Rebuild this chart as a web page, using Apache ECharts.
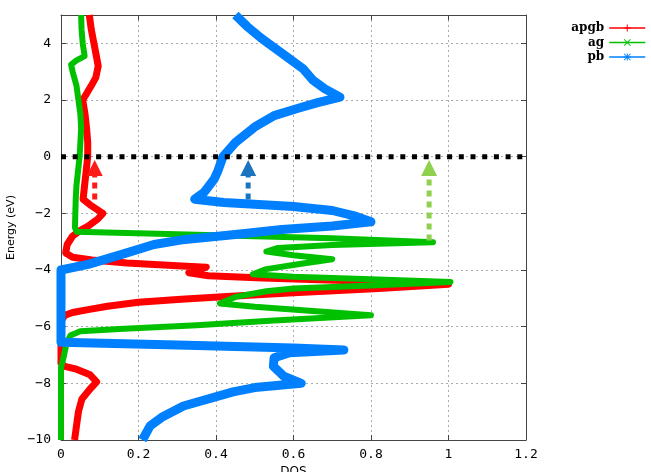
<!DOCTYPE html>
<html>
<head>
<meta charset="utf-8">
<script src="https://cdn.jsdelivr.net/npm/echarts@6/dist/echarts.min.js"></script>
<style>
  html, body { margin: 0; padding: 0; background: #fff; }
  #main { width: 651px; height: 472px; }
</style>
</head>
<body>
<div id="main"></div>
<script>
// [DOS, Energy] pairs, sorted from top (E=5) to bottom (E=-10)
var apgb = [
  [0.073, 5.0], [0.078, 4.5], [0.085, 4.0], [0.092, 3.5], [0.096, 3.2], [0.090, 2.8],
  [0.078, 2.5], [0.065, 2.2], [0.056, 2.0], [0.062, 1.5], [0.066, 1.0], [0.069, 0.5],
  [0.069, 0.0], [0.065, -0.5], [0.061, -1.0], [0.057, -1.5], [0.075, -1.7], [0.108, -2.0],
  [0.095, -2.2], [0.070, -2.45], [0.050, -2.6], [0.030, -2.8], [0.016, -3.1], [0.012, -3.4],
  [0.030, -3.55], [0.080, -3.65], [0.170, -3.75], [0.300, -3.85], [0.375, -3.9], [0.350, -4.0],
  [0.330, -4.1], [0.380, -4.2], [0.520, -4.28], [0.750, -4.38], [1.0, -4.5], [0.820, -4.65],
  [0.600, -4.8], [0.450, -4.92], [0.310, -5.03], [0.200, -5.14], [0.120, -5.28], [0.070, -5.4],
  [0.030, -5.5], [0.010, -5.6], [0.0, -5.8], [0.0, -7.3], [0.010, -7.4], [0.040, -7.5],
  [0.075, -7.7], [0.092, -7.95], [0.075, -8.2], [0.054, -8.55], [0.045, -9.0], [0.040, -9.5],
  [0.035, -10.0]
];
var ag = [
  [0.052, 5.0], [0.053, 4.5], [0.056, 4.0], [0.061, 3.55], [0.040, 3.4], [0.026, 3.25],
  [0.030, 3.0], [0.040, 2.5], [0.045, 2.0], [0.050, 1.5], [0.052, 1.0], [0.050, 0.5],
  [0.048, 0.0], [0.044, -0.5], [0.040, -1.0], [0.038, -1.5], [0.037, -2.0], [0.036, -2.5],
  [0.040, -2.65], [0.300, -2.74], [0.700, -2.88], [0.960, -3.02], [0.700, -3.12], [0.560, -3.22],
  [0.530, -3.35], [0.600, -3.48], [0.700, -3.62], [0.620, -3.78], [0.530, -3.97], [0.495, -4.15],
  [0.600, -4.24], [0.800, -4.33], [1.005, -4.42], [0.800, -4.55], [0.600, -4.65], [0.530, -4.75],
  [0.450, -4.95], [0.410, -5.18], [0.500, -5.3], [0.650, -5.45], [0.800, -5.6], [0.550, -5.78],
  [0.350, -5.95], [0.150, -6.08], [0.050, -6.16], [0.025, -6.3], [0.014, -6.6], [0.008, -7.0],
  [0.0, -7.45], [0.0, -10.0]
];
var pb = [
  [0.450, 5.0], [0.480, 4.6], [0.515, 4.2], [0.535, 4.0], [0.575, 3.6], [0.625, 3.1],
  [0.650, 2.7], [0.680, 2.4], [0.720, 2.1], [0.660, 1.9], [0.610, 1.7], [0.550, 1.45],
  [0.500, 1.05], [0.450, 0.5], [0.418, 0.0], [0.405, -0.5], [0.395, -0.8], [0.370, -1.25],
  [0.345, -1.5], [0.420, -1.62], [0.600, -1.76], [0.700, -1.9], [0.760, -2.1], [0.800, -2.3],
  [0.700, -2.45], [0.570, -2.57], [0.450, -2.75], [0.320, -2.92], [0.240, -3.1], [0.157, -3.45],
  [0.070, -3.8], [0.0, -4.0], [0.0, -6.55], [0.300, -6.65], [0.600, -6.75], [0.730, -6.82],
  [0.590, -6.92], [0.550, -7.1], [0.548, -7.4], [0.575, -7.75], [0.620, -8.0], [0.500, -8.15],
  [0.444, -8.3], [0.316, -8.8], [0.260, -9.2], [0.230, -9.5], [0.210, -10.0]
];

// dashed arrows: x position, start energy, energy of the head centre
var arrowX = [0.087, 0.483, 0.950];
var arrowFrom = [-1.51, -1.51, -2.96];
var arrowTo = -0.40;
var arrowColors = ['#ff1a1a', '#1b74bf', '#8fd14f'];

var seriesNames = ['apgb', 'ag', 'pb'];
var seriesColors = ['#ff0000', '#00c000', '#0080ff'];

var chart = echarts.init(document.getElementById('main'), null, { renderer: 'canvas' });

var monoFont = 'DejaVu Sans Mono';
var minus = function (v) { return String(v).replace('-', '\u2212'); };

var series = [
  {
    name: 'apgb', type: 'line', data: apgb, showSymbol: false,
    symbol: 'path://M4.3,0H5.7V4.3H10V5.7H5.7V10H4.3V5.7H0V4.3H4.3Z',
    lineStyle: { width: 7, color: seriesColors[0], join: 'round' },
    itemStyle: { color: seriesColors[0] }
  },
  {
    name: 'ag', type: 'line', data: ag, showSymbol: false,
    symbol: 'path://M1,0L5,4L9,0L10,1L6,5L10,9L9,10L5,6L1,10L0,9L4,5L0,1Z',
    lineStyle: { width: 6, color: seriesColors[1], join: 'round' },
    itemStyle: { color: seriesColors[1] }
  },
  {
    name: 'pb', type: 'line', data: pb, showSymbol: false,
    symbol: 'path://M4.3,0H5.7V10H4.3Z M0,4.3H10V5.7H0Z M1,0L10,9L9,10L0,1Z M9,0L10,1L1,10L0,9Z',
    lineStyle: { width: 9, color: seriesColors[2], join: 'round' },
    itemStyle: { color: seriesColors[2] }
  },
  // Fermi level
  {
    type: 'line', data: [[0, 0], [1.2, 0]], symbol: 'none', silent: true,
    lineStyle: { width: 5, color: '#000', type: [5, 6.7], cap: 'butt' }
  }
];

arrowX.forEach(function (x, i) {
  series.push({
    type: 'line', silent: true, symbol: 'none', showSymbol: true,
    data: [
      [x, arrowFrom[i]],
      { value: [x, arrowTo], symbol: 'triangle', symbolSize: [16, 16] }
    ],
    lineStyle: { width: 5, color: arrowColors[i], type: [6, 5], cap: 'butt' },
    itemStyle: { color: arrowColors[i] }
  });
});

var option = {
  animation: false,
  backgroundColor: '#fff',
  grid: { left: 61, right: 125, top: 15, bottom: 32, containLabel: false, outerBoundsMode: 'none' },
  legend: {
    data: seriesNames,
    orient: 'vertical',
    align: 'right',
    right: 0,
    top: 17,
    itemWidth: 36,
    itemHeight: 9,
    itemGap: 2.5,
    lineStyle: { width: 1.5 },
    textStyle: { fontFamily: 'DejaVu Serif', fontWeight: 'bold', fontSize: 12, color: '#000' }
  },
  xAxis: [
    {
      type: 'value', min: 0, max: 1.2, interval: 0.2,
      name: 'DOS', nameLocation: 'middle', nameGap: 26,
      nameTextStyle: { fontFamily: 'DejaVu Sans', fontSize: 12, color: '#000', verticalAlign: 'top' },
      axisLine: { onZero: false, lineStyle: { color: '#444', width: 1 } },
      axisTick: { inside: true, length: 5, lineStyle: { color: '#444' } },
      axisLabel: { margin: 8, fontFamily: monoFont, fontSize: 13, color: '#000' },
      splitLine: { show: true, lineStyle: { color: '#aaa', type: [2, 3], width: 1 } }
    },
    {
      type: 'value', min: 0, max: 1.2, interval: 0.2, position: 'top',
      axisLine: { onZero: false, lineStyle: { color: '#444', width: 1 } },
      axisTick: { inside: true, length: 5, lineStyle: { color: '#444' } },
      axisLabel: { show: false },
      splitLine: { show: false }
    }
  ],
  yAxis: [
    {
      type: 'value', min: -10, max: 5, interval: 2,
      name: 'Energy (eV)', nameLocation: 'middle', nameGap: 40, nameRotate: 90,
      nameTextStyle: { fontFamily: 'DejaVu Sans', fontSize: 11, color: '#000' },
      axisLine: { onZero: false, lineStyle: { color: '#444', width: 1 } },
      axisTick: { inside: true, length: 5, lineStyle: { color: '#444' } },
      axisLabel: { margin: 10, fontFamily: monoFont, fontSize: 13, color: '#000', showMaxLabel: false, formatter: minus },
      splitLine: { show: true, lineStyle: { color: '#aaa', type: [2, 3], width: 1 } }
    },
    {
      type: 'value', min: -10, max: 5, interval: 2, position: 'right',
      axisLine: { onZero: false, lineStyle: { color: '#444', width: 1 } },
      axisTick: { inside: true, length: 5, lineStyle: { color: '#444' } },
      axisLabel: { show: false },
      splitLine: { show: false }
    }
  ],
  series: series
};

chart.setOption(option);
</script>
</body>
</html>
